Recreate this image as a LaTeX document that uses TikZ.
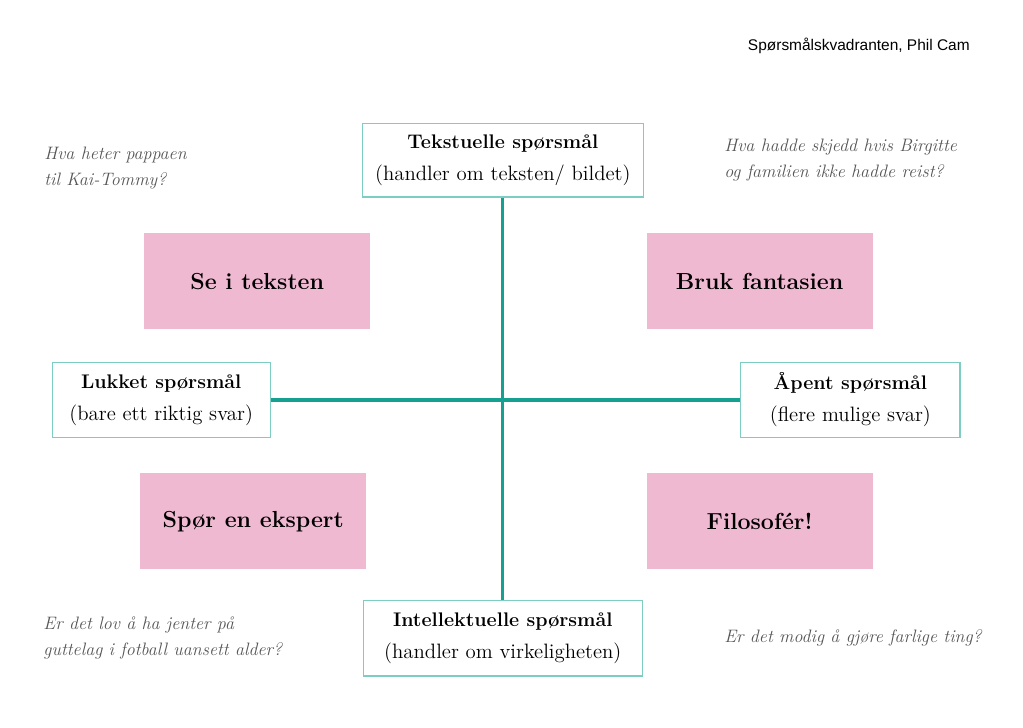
\documentclass[tikz,border=0pt]{standalone}
\usepackage{fontspec}
\newfontfamily\headfont{Liberation Sans}
\usetikzlibrary{positioning}
\definecolor{kvteal}{RGB}{22, 160, 145}
\definecolor{kvkant}{RGB}{125, 205, 195}
\definecolor{kvrosa}{RGB}{240, 185, 210}
\definecolor{kvgraa}{RGB}{85, 85, 85}

\newcommand{\kvtittel}[1]{{\fontsize{14}{17}\selectfont\bfseries #1}}
\newcommand{\kvtekst}[1]{{\fontsize{14.8}{17}\selectfont #1}}

\tikzset{
  akse/.style={draw=kvteal, line width=2.2pt},
  sporsmal/.style={draw=kvkant, line width=0.9pt, fill=white, align=center, inner sep=0pt},
  kvadrant/.style={fill=kvrosa, minimum width=5.65cm, minimum height=2.4cm, font=\fontsize{16.5}{19}\selectfont\bfseries},
  eksempel/.style={text=kvgraa, align=left, inner sep=0pt, font=\fontsize{12.8}{18.5}\selectfont\itshape}
}

\begin{document}
\begin{tikzpicture}
                \useasboundingbox (0,0) rectangle (25.575,-18.175);
                % de fire hjoernene
                \node[kvadrant] (se) at (6.43,-7.03) {Se i teksten};
                \node[kvadrant] (bruk) at (18.99,-7.03) {Bruk fantasien};
                \node[kvadrant] (spor) at (6.33,-13.03) {Spør en ekspert};
                \node[kvadrant] (filo) at (18.99,-13.03) {Filosofér!};
                % aksene
                \node[sporsmal, minimum width=7.03cm, minimum height=1.83cm] (tekst) at (12.57,-4.01)
                    {\kvtittel{Tekstuelle spørsmål}\\[8pt]\kvtekst{(handler om teksten/ bildet)}};
                \node[sporsmal, minimum width=6.98cm, minimum height=1.88cm] (intel) at (12.57,-15.96)
                    {\kvtittel{Intellektuelle spørsmål}\\[8pt]\kvtekst{(handler om virkeligheten)}};
                \node[sporsmal, minimum width=5.45cm, minimum height=1.88cm] (lukket) at (4.03,-10.0)
                    {\kvtittel{Lukket spørsmål}\\[8pt]\kvtekst{(bare ett riktig svar)}};
                \node[sporsmal, minimum width=5.48cm, minimum height=1.88cm] (apent) at (21.26,-10.0)
                    {\kvtittel{Åpent spørsmål}\\[8pt]\kvtekst{(flere mulige svar)}};
                \draw[akse] (tekst.south) -- (intel.north);
                \draw[akse] (lukket.east) -- (apent.west);
                % eksempler
                \node[eksempel, anchor=west] (ex1) at (1.1,-4.19) {Hva heter pappaen\\til Kai-Tommy?};
                \node[eksempel, anchor=west] (ex2) at (18.1,-3.99) {Hva hadde skjedd hvis Birgitte\\og familien ikke hadde reist?};
                \node[eksempel, anchor=west] (ex3) at (1.08,-15.94) {Er det lov å ha jenter på\\guttelag i fotball uansett alder?};
                \node[eksempel, anchor=west] (ex4) at (18.1,-15.95) {Er det modig å gjøre farlige ting?};
                \node[anchor=east, inner sep=0pt, font=\headfont\fontsize{11}{13}\selectfont] (tittel) at (24.25,-1.15) {Spørsmålskvadranten, Phil Cam};
            \end{tikzpicture}
\end{document}
